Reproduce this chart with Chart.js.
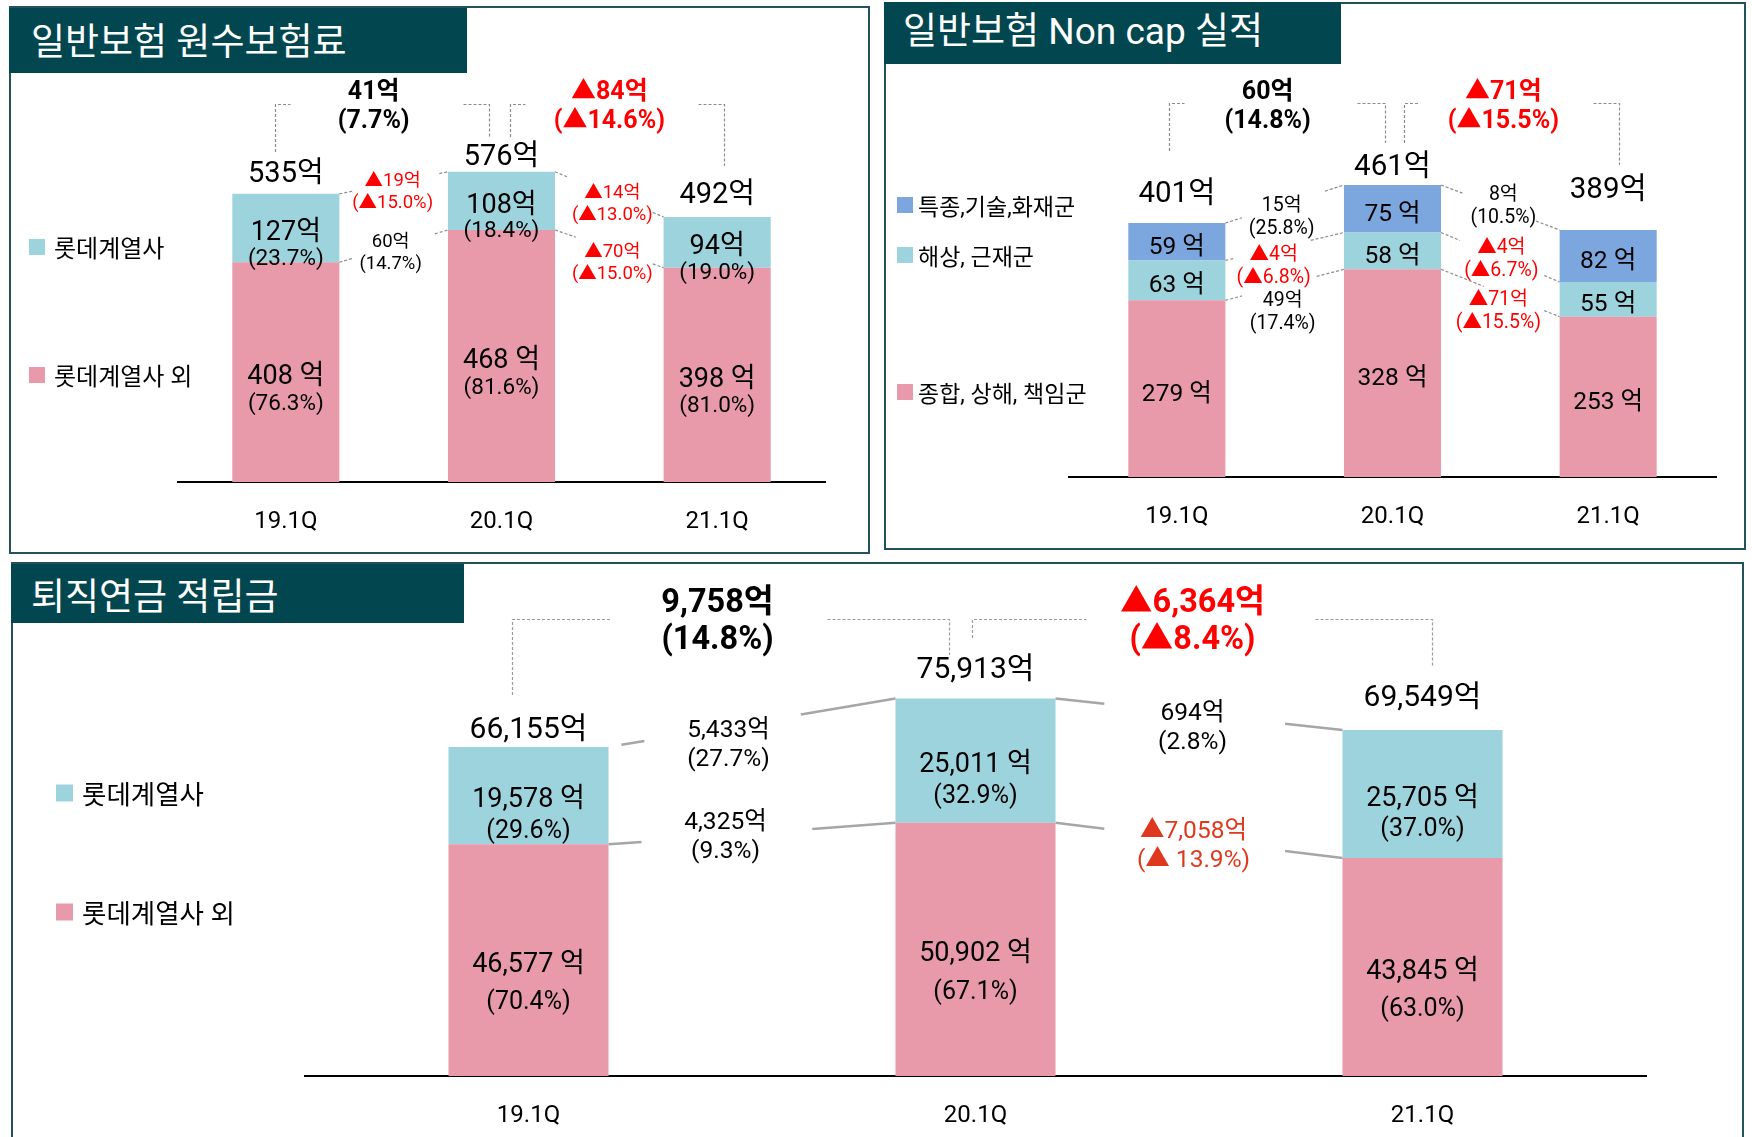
<!DOCTYPE html>
<html><head><meta charset="utf-8">
<script src="https://cdn.jsdelivr.net/npm/chart.js@4.4.0/dist/chart.umd.min.js"></script>
<style>
body{margin:0;width:1752px;height:1137px;background:#fff;position:relative;overflow:hidden;font-family:Roboto,"Noto Sans CJK KR",sans-serif}
.panel{position:absolute;border:2px solid #24525C;box-sizing:border-box}
.title{position:absolute;background:#02474F;color:#fff;font-size:37px;box-sizing:border-box;display:flex;align-items:center;font-family:Roboto,"Noto Sans CJK KR",sans-serif;white-space:nowrap}
canvas{position:absolute}
</style></head><body>
<div class="panel" style="left:9px;top:6px;width:861px;height:548px"></div>
<div class="panel" style="left:884px;top:2px;width:862px;height:548px"></div>
<div class="panel" style="left:11px;top:562px;width:1733px;height:600px"></div>
<div class="title" id="t1" style="left:9px;top:8px;width:458px;height:65px;padding-left:22px;padding-bottom:4px"></div>
<div class="title" id="t2" style="left:884px;top:2px;width:457px;height:62px;padding-left:19px;padding-bottom:10px"></div>
<div class="title" id="t3" style="left:11px;top:564px;width:453px;height:59px;padding-left:20px"></div>
<canvas id="c1" width="880" height="560" style="left:0;top:0"></canvas>
<canvas id="c2" width="876" height="560" style="left:876px;top:0"></canvas>
<canvas id="c3" width="1752" height="577" style="left:0;top:560px"></canvas>
<script>
// ---------- data ----------
const categories = ['19.1Q', '20.1Q', '21.1Q'];

// 일반보험 원수보험료
const premTitle = '일반보험 원수보험료';
const premSeries = ['롯데계열사 외', '롯데계열사'];
const premOther = [408, 468, 398];
const premLotte = [127, 108, 94];
const premOtherShare = ['76.3%', '81.6%', '81.0%'];
const premLotteShare = ['23.7%', '18.4%', '19.0%'];
const premTotals = ['535억', '576억', '492억'];
const premTotalChange = [['41억', '(7.7%)'], ['▲84억', '(▲14.6%)']];
const premLotteChange = [['▲19억', '(▲15.0%)'], ['▲14억', '(▲13.0%)']];
const premOtherChange = [['60억', '(14.7%)'], ['▲70억', '(▲15.0%)']];

// 일반보험 Non cap 실적
const ncTitle = '일반보험 Non cap 실적';
const ncSeries = ['종합, 상해, 책임군', '해상, 근재군', '특종,기술,화재군'];
const ncGeneral = [279, 328, 253];
const ncMarine = [63, 58, 55];
const ncSpecial = [59, 75, 82];
const ncTotals = ['401억', '461억', '389억'];
const ncTotalChange = [['60억', '(14.8%)'], ['▲71억', '(▲15.5%)']];
const ncSpecialChange = [['15억', '(25.8%)'], ['8억', '(10.5%)']];
const ncMarineChange = [['▲4억', '(▲6.8%)'], ['▲4억', '(▲6.7%)']];
const ncGeneralChange = [['49억', '(17.4%)'], ['▲71억', '(▲15.5%)']];

// 퇴직연금 적립금
const penTitle = '퇴직연금 적립금';
const penSeries = ['롯데계열사 외', '롯데계열사'];
const penOther = [46577, 50902, 43845];
const penLotte = [19578, 25011, 25705];
const penOtherShare = ['70.4%', '67.1%', '63.0%'];
const penLotteShare = ['29.6%', '32.9%', '37.0%'];
const penTotals = ['66,155억', '75,913억', '69,549억'];
const penTotalChange = [['9,758억', '(14.8%)'], ['▲6,364억', '(▲8.4%)']];
const penLotteChange = [['5,433억', '(27.7%)'], ['694억', '(2.8%)']];
const penOtherChange = [['4,325억', '(9.3%)'], ['▲7,058억', '(▲ 13.9%)']];

// ---------- styles ----------
const PINK = '#E89AAB', TEAL = '#9DD3DC', BLUE = '#7BA6DE', RED = '#FF0000';
const FONT = 'Roboto, "Noto Sans CJK KR", sans-serif';
const TEXT_SHIFT = 4;

document.getElementById('t1').textContent = premTitle;
document.getElementById('t2').textContent = ncTitle;
document.getElementById('t3').textContent = penTitle;

function txt(ctx, s, x, y, size, color, bold) {
  ctx.font = (bold ? 'bold ' : '') + size + 'px ' + FONT;
  ctx.fillStyle = color;
  ctx.textAlign = 'center';
  ctx.textBaseline = 'middle';
  ctx.fillText(s, x, y + TEXT_SHIFT);
}
const fmt = v => v.toLocaleString('en-US');

function seg(ctx, ax, ay, bx, by, a, b) {
  ctx.beginPath();
  ctx.moveTo(ax + (bx - ax) * a, ay + (by - ay) * a);
  ctx.lineTo(ax + (bx - ax) * b, ay + (by - ay) * b);
  ctx.stroke();
}

function annot(cfg) {
  return {
    id: 'annot_' + cfg.canvas,
    afterDatasetsDraw(chart) {
      const ctx = chart.ctx, xs = chart.scales.x, ys = chart.scales.y, L = cfg.L;
      const X = i => xs.getPixelForValue(i);
      const Y = v => ys.getPixelForValue(v);
      const hw = i => chart.getDatasetMeta(0).data[i].width / 2;
      const cum = [];
      cfg.sets.forEach((s, d) => { cum[d] = s.data.map((v, i) => v + (d ? cum[d - 1][i] : 0)); });
      const topCum = cum[cum.length - 1];
      ctx.save();
      // labels inside segments
      cfg.sets.forEach((s, d) => {
        s.data.forEach((v, i) => {
          const lo = d ? cum[d - 1][i] : 0, hi = cum[d][i];
          const c = (Y(lo) + Y(hi)) / 2;
          const dy = L.segDy[d];
          txt(ctx, fmt(v) + s.unit, X(i), c + dy[0], L.segSize, '#000');
          if (s.share) txt(ctx, '(' + s.share[i] + ')', X(i), c + dy[1], L.shareSize, '#000');
        });
      });
      // totals
      cfg.totals.forEach((t, i) => txt(ctx, t, X(i), Y(topCum[i]) + L.totalDy[i], L.totalSize, '#000'));
      // connectors + change labels
      cfg.changes.forEach((ch, d) => {
        if (!ch) return;
        for (let p = 0; p < categories.length - 1; p++) {
          const ax = X(p) + hw(p), ay = Y(cum[d][p]);
          const bx = X(p + 1) - hw(p + 1), by = Y(cum[d][p + 1]);
          const f = L.connFrac[p][d];
          ctx.strokeStyle = L.conn.color; ctx.lineWidth = L.conn.width; ctx.setLineDash(L.conn.dash);
          seg(ctx, ax, ay, bx, by, f[0], f[1]);
          seg(ctx, ax, ay, bx, by, f[2], f[3]);
          const off = L.chOff[p][d];
          const mx = (X(p) + X(p + 1)) / 2 + off[0], my = (ay + by) / 2 + off[1];
          const col = ch[p][0].includes('▲') ? (L.chColor && L.chColor[p] && L.chColor[p][d] || RED) : '#000';
          txt(ctx, ch[p][0], mx, my - L.chGap, L.chSize, col);
          txt(ctx, ch[p][1], mx, my + L.chGap, L.chSize, col);
        }
      });
      // brackets
      ctx.setLineDash(L.br.dash); ctx.strokeStyle = L.br.color; ctx.lineWidth = L.br.width;
      L.br.pairs.forEach((b, p) => {
        const x0 = Math.round(X(p) + b[0]) + 0.5, x1 = Math.round(X(p + 1) + b[3]) + 0.5, t = L.br.top + 0.5;
        ctx.beginPath();
        ctx.moveTo(x0, b[1]); ctx.lineTo(x0, t); ctx.lineTo(x0 + b[2], t);
        ctx.moveTo(x1 - b[5], t); ctx.lineTo(x1, t); ctx.lineTo(x1, b[4]);
        ctx.stroke();
      });
      ctx.setLineDash([]);
      // total change labels
      cfg.totalChange.forEach((tc, p) => {
        const mx = (X(p) + X(p + 1)) / 2 + L.topDx[p];
        const col = tc[0].includes('▲') ? RED : '#000';
        txt(ctx, tc[0], mx, L.topY[0], L.topSize, col, true);
        txt(ctx, tc[1], mx, L.topY[1], L.topSize, col, true);
      });
      // legend
      L.legend.items.forEach(it => {
        const s = cfg.sets[it.d];
        ctx.fillStyle = s.color;
        ctx.fillRect(L.legend.x, it.y - L.legend.sq / 2, L.legend.sq, L.legend.sq);
        ctx.font = L.legend.size + 'px ' + FONT;
        ctx.fillStyle = '#000'; ctx.textAlign = 'left'; ctx.textBaseline = 'middle';
        ctx.fillText(s.name, L.legend.tx, it.y + TEXT_SHIFT);
      });
      ctx.restore();
    }
  };
}

function makeChart(cfg) {
  return new Chart(document.getElementById(cfg.canvas), {
    type: 'bar',
    data: {
      labels: categories,
      datasets: cfg.sets.map(s => ({ label: s.name, data: s.data, backgroundColor: s.color, borderWidth: 0,
        categoryPercentage: 1, barPercentage: cfg.barPct }))
    },
    options: {
      responsive: false, animation: false, devicePixelRatio: 1,
      layout: { padding: cfg.padding },
      plugins: { legend: { display: false }, tooltip: { enabled: false } },
      scales: {
        x: { stacked: true, grid: { display: false, drawTicks: false },
             border: { display: true, color: '#000', width: 2 },
             ticks: { padding: 26, color: '#000', font: { family: FONT, size: 24 } },
             afterFit: s => { s.height = cfg.axisH; } },
        y: { stacked: true, display: false, min: 0, max: cfg.max }
      }
    },
    plugins: [annot(cfg)]
  });
}

const dashConn = { color: '#8C8C8C', width: 1.2, dash: [3, 2] };
const dashBr = { color: '#8C8C8C', width: 1.2, dash: [3, 2] };

makeChart({
  canvas: 'c1', barPct: 0.4965, max: 700, axisH: 78,
  padding: { left: 178, right: 55, top: 105, bottom: 0 },
  sets: [
    { name: premSeries[0], data: premOther, color: PINK, unit: ' 억', share: premOtherShare },
    { name: premSeries[1], data: premLotte, color: TEAL, unit: '억', share: premLotteShare }
  ],
  totals: premTotals, totalChange: premTotalChange,
  changes: [premOtherChange, premLotteChange],
  L: {
    segDy: [[1, 28], [1, 27]], segSize: 27, shareSize: 22.5,
    totalDy: [-23, -18, -25], totalSize: 29,
    conn: dashConn,
    connFrac: [[[0, 0.12, 0.88, 1], [0, 0.12, 0.92, 1]], [[0, 0.19, 0.9, 1], [0, 0.11, 0.9, 1]]],
    chOff: [[[-3, 3], [-1, 6]], [[3, 11], [3, 6]]], chGap: 11, chSize: 18.5,
    br: { ...dashBr, top: 104, pairs: [[-11, 152, 15, -13, 137, 26], [8, 137, 15, 7, 166, 26]] },
    topDx: [-20, 0], topY: [89, 118], topSize: 25,
    legend: { x: 29, sq: 16, tx: 54, size: 24, items: [{ d: 1, y: 247 }, { d: 0, y: 375 }] }
  }
});

makeChart({
  canvas: 'c2', barPct: 0.45, max: 600, axisH: 78,
  padding: { left: 193, right: 36, top: 97, bottom: 5 },
  sets: [
    { name: ncSeries[0], data: ncGeneral, color: PINK, unit: ' 억' },
    { name: ncSeries[1], data: ncMarine, color: TEAL, unit: ' 억' },
    { name: ncSeries[2], data: ncSpecial, color: BLUE, unit: ' 억' }
  ],
  totals: ncTotals, totalChange: ncTotalChange,
  changes: [ncGeneralChange, ncMarineChange, ncSpecialChange],
  L: {
    segDy: [[2], [2], [2]], segSize: 24.5, shareSize: 22,
    totalDy: [-32, -21, -43], totalSize: 29.5,
    conn: dashConn,
    connFrac: [[[0, 0.14, 0.77, 1], [0, 0.07, 0.72, 1], [0, 0.14, 0.84, 1]],
               [[0, 0.36, 0.87, 1], [0, 0.16, 0.87, 1], [0, 0.18, 0.8, 1]]],
    chOff: [[[-2, 24], [-11, 16], [-3, 10]], [[-2, 15], [1, -1.5], [3, -4.5]]], chGap: 11.5, chSize: 19.5,
    br: { ...dashBr, top: 103, pairs: [[-8, 151, 15, -8, 143, 28], [11, 143, 14, 11, 165, 26]] },
    topDx: [-17, 3], topY: [89, 118], topSize: 25,
    legend: { x: 21, sq: 16, tx: 42, size: 23, items: [{ d: 2, y: 205 }, { d: 1, y: 255 }, { d: 0, y: 392 }] }
  }
});

makeChart({
  canvas: 'c3', barPct: 0.358, max: 90000, axisH: 61,
  padding: { left: 305, right: 106, top: 68.4, bottom: 0 },
  sets: [
    { name: penSeries[0], data: penOther, color: PINK, unit: ' 억', share: penOtherShare },
    { name: penSeries[1], data: penLotte, color: TEAL, unit: ' 억', share: penLotteShare }
  ],
  totals: penTotals, totalChange: penTotalChange,
  changes: [penOtherChange, penLotteChange],
  L: {
    segDy: [[1, 39], [1, 32]], segSize: 27, shareSize: 25,
    totalDy: [-20, -32, -36], totalSize: 30,
    conn: { color: '#A6A6A6', width: 2.5, dash: [] },
    connFrac: [[[0, 0.115, 0.71, 1], [0.045, 0.125, 0.67, 1]], [[0, 0.17, 0.8, 1], [0, 0.17, 0.8, 1]]],
    chOff: [[[-26.5, 0], [-23.5, 19]], [[-5.5, 2], [-6.5, 10]]], chGap: 14.5, chSize: 24.5,
    chColor: [[null, null], ['#E0381E', null]],
    br: { ...dashBr, color: '#9A9A9A', top: 59, pairs: [[-17, 135, 99, -27, 95, 122], [-4, 78, 114, 9, 106, 117]] },
    topDx: [-34.5, -6.5], topY: [40, 77], topSize: 32.5,
    legend: { x: 56, sq: 17, tx: 82, size: 26.5, items: [{ d: 1, y: 233 }, { d: 0, y: 352 }] }
  }
});
</script>
</body></html>
